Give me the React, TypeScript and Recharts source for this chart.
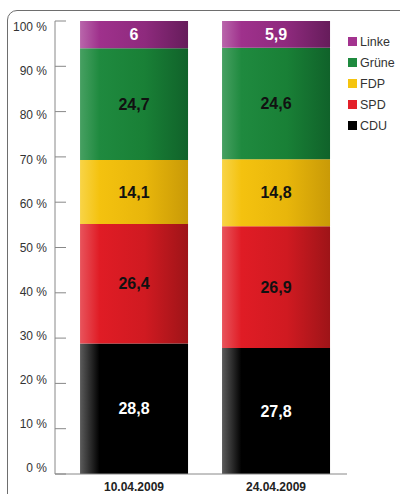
import React from 'react';
import { BarChart, Bar, XAxis, YAxis, LabelList } from 'recharts';

const dates = ['10.04.2009', '24.04.2009'];
const cdu = [28.8, 27.8];
const spd = [26.4, 26.9];
const fdp = [14.1, 14.8];
const gruene = [24.7, 24.6];
const linke = [6, 5.9];
const yTicks = [0, 10, 20, 30, 40, 50, 60, 70, 80, 90, 100];

const parties = [
  { key: 'cdu', name: 'CDU', values: cdu, swatch: '#000000', text: '#ffffff', stops: ['#5c5c5c', '#000000', '#000000', '#000000'] },
  { key: 'spd', name: 'SPD', values: spd, swatch: '#e3202a', text: '#111111', stops: ['#e8545c', '#e01c25', '#d01a21', '#9e1418'] },
  { key: 'fdp', name: 'FDP', values: fdp, swatch: '#f5c40f', text: '#111111', stops: ['#f8d447', '#f4c20f', '#e8b60b', '#c99a07'] },
  { key: 'gruene', name: 'Grüne', values: gruene, swatch: '#1e8a3f', text: '#111111', stops: ['#47a062', '#1f8a3f', '#198036', '#10622a'] },
  { key: 'linke', name: 'Linke', values: linke, swatch: '#a3338f', text: '#ffffff', stops: ['#b966ab', '#9f318c', '#8e2a7d', '#661c5b'] },
];

const data = dates.map((date, i) => {
  const row: Record<string, number | string> = { date };
  parties.forEach((p) => (row[p.key] = p.values[i]));
  return row;
});

const fmt = (v: unknown) => String(v).replace('.', ',');

function YTick({ x, y, payload }: any) {
  const shift = (6 * (payload.value - 50)) / 50;
  return (
    <text x={x} y={y + shift} dy="0.355em" textAnchor="end" fontSize={12} fill="#333">
      {payload.value} %
    </text>
  );
}

export default function App() {
  return (
    <div
      style={{
        position: 'absolute',
        left: 0,
        top: 0,
        width: 400,
        height: 494,
        overflow: 'hidden',
        background: '#fff',
        fontFamily: '"Liberation Sans", Arial, sans-serif',
      }}
    >
      <div
        style={{
          position: 'absolute',
          left: 7,
          top: 10,
          width: 430,
          height: 530,
          border: '1.5px solid #6e6e6e',
          borderRadius: 10,
        }}
      />
      <div style={{ position: 'absolute', left: 0, top: 0 }}>
        <BarChart
          width={400}
          height={494}
          data={data}
          margin={{ top: 21, right: 53, bottom: 0, left: 5 }}
          barCategoryGap="12%"
          style={{ fontFamily: '"Liberation Sans", Arial, sans-serif' }}
        >
          <defs>
            {parties.map((p) => (
              <linearGradient key={p.key} id={`g-${p.key}`} x1="0" y1="0" x2="1" y2="0">
                <stop offset="0%" stopColor={p.stops[0]} />
                <stop offset="18%" stopColor={p.stops[1]} />
                <stop offset="60%" stopColor={p.stops[2]} />
                <stop offset="100%" stopColor={p.stops[3]} />
              </linearGradient>
            ))}
          </defs>
          <XAxis
            xAxisId="grid"
            type="number"
            domain={[0, 2]}
            ticks={[1, 2]}
            tick={false}
            axisLine={false}
            tickSize={-12}
            stroke="#888"
            height={0}
          />
          <XAxis
            dataKey="date"
            height={20}
            padding={{ left: 8, right: 0 }}
            tickLine={false}
            tickSize={0}
            tickMargin={8}
            stroke="#888"
            tick={{ fontSize: 12, fontWeight: 'bold', fill: '#222' }}
          />
          <YAxis
            type="number"
            domain={[0, 100]}
            allowDataOverflow
            ticks={yTicks}
            interval={0}
            width={50}
            stroke="#888"
            tickSize={-11}
            tickMargin={19}
            tick={<YTick />}
          />
          {parties.map((p) => (
            <Bar key={p.key} dataKey={p.key} name={p.name} stackId="a" fill={`url(#g-${p.key})`} isAnimationActive={false}>
              <LabelList
                dataKey={p.key}
                position="center"
                formatter={fmt}
                fill={p.text}
                fontSize={16}
                fontWeight="bold"
              />
            </Bar>
          ))}
        </BarChart>
      </div>
      <div style={{ position: 'absolute', left: 348, top: 31 }}>
        {[...parties].reverse().map((p) => (
          <div key={p.key} style={{ display: 'flex', alignItems: 'center', height: 21, fontSize: 12.5, color: '#333' }}>
            <span style={{ width: 9, height: 9, background: p.swatch, marginRight: 3, display: 'inline-block' }} />
            {p.name}
          </div>
        ))}
      </div>
    </div>
  );
}
